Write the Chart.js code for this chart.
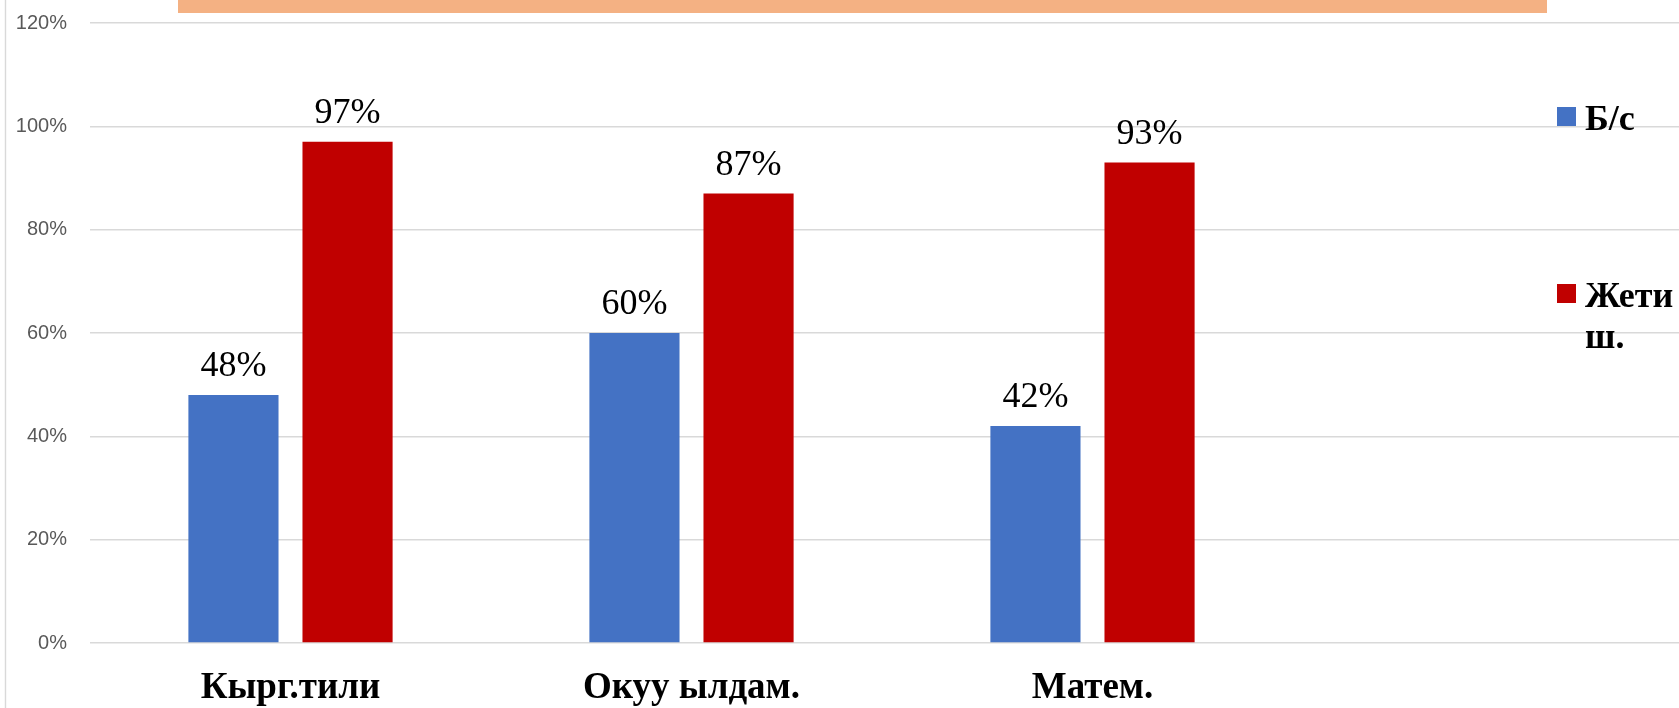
<!DOCTYPE html>
<html lang="ky">
<head>
<meta charset="utf-8">
<title>Б/с жана Жети ш.</title>
<script src="https://cdn.jsdelivr.net/npm/chart.js@4/dist/chart.umd.min.js"></script>
<style>
  html, body { margin: 0; padding: 0; background: #fff; overflow: hidden; }
  #wrap { width: 1679px; height: 708px; overflow: hidden; position: relative; }
  #chart { display: block; }
</style>
</head>
<body>
<div id="wrap"><canvas id="chart" width="1700" height="708"></canvas></div>
<script>
/* ── Данные ─────────────────────────────────────────── */
const categories = ["Кырг.тили", "Окуу ылдам.", "Матем.", ""]; // 4-я колонка пустая
const seriesNames = ["Б/с", "Жети ш."];
const bsValues = [48, 60, 42];
const jetiValues = [97, 87, 93];
const yMax = 120;
const yStep = 20;

const BLUE = "#4472C4";
const RED = "#C00000";
const GRID = "#d9d9d9";

/* ── Плагин: рамка слева + полоса заголовка сверху ───── */
const frameDecorPlugin = {
  id: "frameDecor",
  beforeDraw(chart) {
    const { ctx, height } = chart;
    ctx.save();
    ctx.fillStyle = "#fff";
    ctx.fillRect(0, 0, chart.width, height);
    // полоса заголовка (обрезана сверху)
    ctx.fillStyle = "#F4B183";
    ctx.fillRect(178, 0, 1369, 13);
    // левая граница области диаграммы
    ctx.strokeStyle = GRID;
    ctx.lineWidth = 1.4;
    ctx.beginPath();
    ctx.moveTo(5.5, 0);
    ctx.lineTo(5.5, height);
    ctx.stroke();
    ctx.restore();
  },
};

/* ── Плагин: подписи значений над столбиками ─────────── */
const valueLabelsPlugin = {
  id: "valueLabels",
  afterDatasetsDraw(chart) {
    const { ctx } = chart;
    ctx.save();
    ctx.font = "36px 'Liberation Serif', 'Times New Roman', serif";
    ctx.fillStyle = "#000";
    ctx.textAlign = "center";
    ctx.textBaseline = "alphabetic";
    chart.data.datasets.forEach((ds, i) => {
      const meta = chart.getDatasetMeta(i);
      meta.data.forEach((bar, j) => {
        const v = ds.data[j];
        if (v === undefined || v === null) return;
        ctx.fillText(v + "%", bar.x, bar.y - 19);
      });
    });
    ctx.restore();
  },
};

/* ── Плагин: легенда справа, поверх области построения ─ */
const sideLegendPlugin = {
  id: "sideLegend",
  afterDraw(chart, _args, opts) {
    const { ctx } = chart;
    const x0 = opts.x ?? 1557;
    const box = opts.box ?? 19;
    const textX = x0 + 28;
    const maxW = (opts.right ?? 1679) - textX;
    const lineH = 41;
    ctx.save();
    ctx.font = "bold 36px 'Liberation Serif', 'Times New Roman', serif";
    ctx.textAlign = "left";
    ctx.textBaseline = "alphabetic";
    chart.data.datasets.forEach((ds, i) => {
      const base = opts.baselines[i];
      ctx.fillStyle = ds.backgroundColor;
      ctx.fillRect(x0, base - 23, box, box);

      // перенос по словам, если не помещается
      const lines = [];
      let cur = "";
      ds.label.split(" ").forEach((w) => {
        const test = cur ? cur + " " + w : w;
        if (cur && ctx.measureText(test).width > maxW) {
          lines.push(cur);
          cur = w;
        } else cur = test;
      });
      if (cur) lines.push(cur);

      ctx.fillStyle = "#000";
      lines.forEach((ln, k) => ctx.fillText(ln, textX, base + k * lineH));
    });
    ctx.restore();
  },
};

const ctx = document.getElementById("chart").getContext("2d");
new Chart(ctx, {
  type: "bar",
  data: {
    labels: categories,
    datasets: [
      {
        label: seriesNames[0],
        data: bsValues,
        backgroundColor: BLUE,
        barPercentage: 0.79,
        categoryPercentage: 0.569,
      },
      {
        label: seriesNames[1],
        data: jetiValues,
        backgroundColor: RED,
        barPercentage: 0.79,
        categoryPercentage: 0.569,
      },
    ],
  },
  options: {
    responsive: false,
    animation: false,
    layout: { padding: { top: 23, right: 6, left: 0, bottom: 0 } },
    plugins: {
      legend: { display: false },
      tooltip: { enabled: false },
      sideLegend: { x: 1557, box: 19, right: 1679, baselines: [130, 307] },
    },
    scales: {
      x: {
        grid: { display: false },
        border: { display: false },
        ticks: {
          color: "#000",
          padding: 15,
          maxRotation: 0,
          autoSkip: false,
          font: { family: "'Liberation Serif', 'Times New Roman', serif", size: 37, weight: "bold" },
        },
        afterFit: (s) => { s.height = 65; },
      },
      y: {
        min: 0,
        max: yMax,
        grid: { color: GRID, lineWidth: 1.4, drawTicks: false },
        border: { display: false },
        ticks: {
          stepSize: yStep,
          padding: 23,
          color: "#595959",
          font: { family: "'Liberation Sans', Arial, sans-serif", size: 20 },
          callback: (v) => v + "%",
        },
        afterFit: (s) => {
          s.width = 90;
          // без лишних отступов сверху/снизу — сетка 120% у самого края
          s.paddingTop = 0;
          s.paddingBottom = 0;
        },
      },
    },
  },
  plugins: [frameDecorPlugin, valueLabelsPlugin, sideLegendPlugin],
});
</script>
</body>
</html>
